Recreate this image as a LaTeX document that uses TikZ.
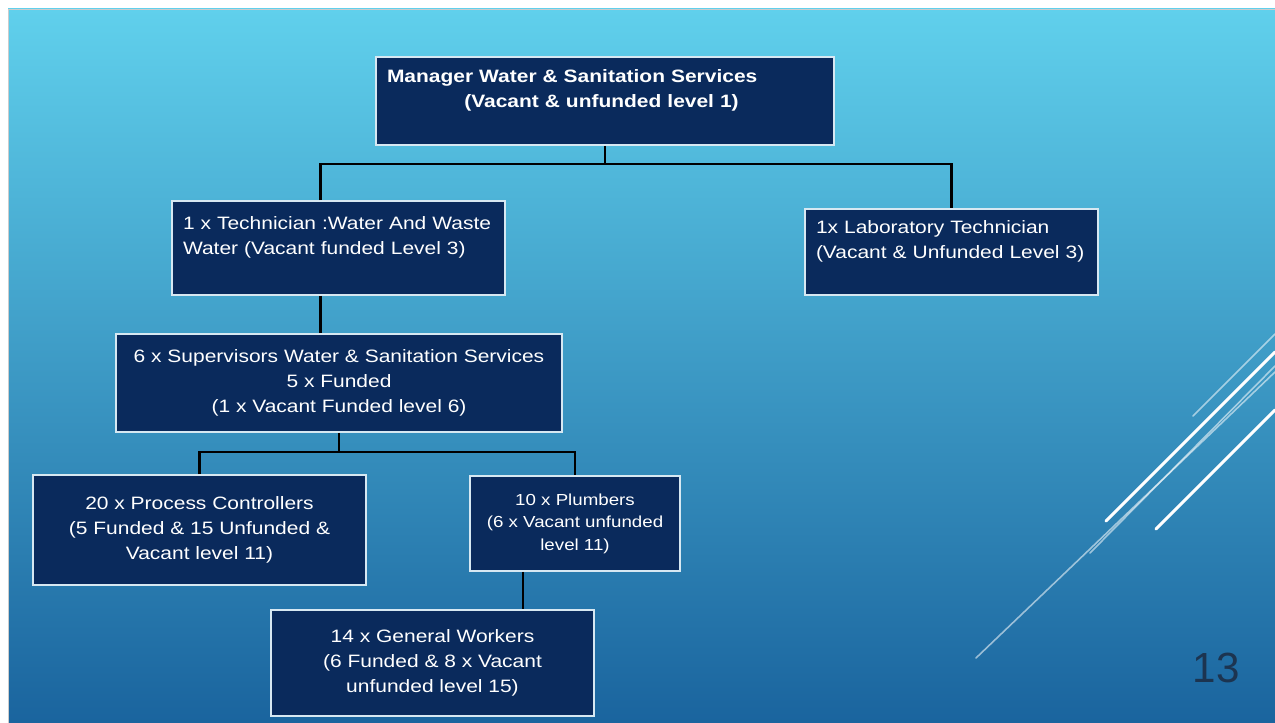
\documentclass[tikz,border=0pt]{standalone}
\usepackage{fontspec}
\setmainfont{Liberation Sans}[FakeStretch=1.17]
\newfontfamily\pagenumfont{Liberation Sans}
\usetikzlibrary{calc}

\newcommand{\pxu}{0.02cm}
\definecolor{bgtop}{RGB}{96,208,236}
\definecolor{bgmid}{RGB}{58,158,206}
\definecolor{bgbot}{RGB}{26,100,158}
\definecolor{boxfill}{RGB}{10,42,92}
\definecolor{boxline}{RGB}{215,232,242}
\definecolor{pagenum}{RGB}{28,52,80}

\begin{document}
\begin{tikzpicture}[x=0.02cm,y=-0.02cm,
  post/.style={draw=boxline,line width=1.1pt,fill=boxfill,text=white,
    font=\fontsize{10.2}{14.2}\selectfont,inner sep=0pt,align=center},
  leftpost/.style={post,align=left,inner xsep={11*\pxu}},
  conn/.style={line width=1.3pt,black},
  streak/.style={white,line width=1.7pt,line cap=round},
  faint/.style={white,opacity=0.55,line width=0.9pt,line cap=round}]
  % Page and slide background.
  \fill[white] (0,0) rectangle (1275,723);
  \useasboundingbox (0,0) rectangle (1275,723);
  \shade[top color=bgtop,middle color=bgmid,bottom color=bgbot] (8,9) rectangle (1275,723);
  \draw[black!20,line width=0.4pt] (8,723) -- (8,9) -- (1275,9);
  % Streaks at the right edge.
  \draw[faint] (1193,416) -- (1275,334);
  \draw[streak] (1106,521) -- (1275,352);
  \draw[faint] (1090,553) -- (1275,366);
  \draw[faint] (976,658) -- (1275,372);
  \draw[streak] (1156,529) -- (1275,410);
  % Slide number.
  \node[text=pagenum,font=\pagenumfont\fontsize{24}{28}\selectfont] (pgno) at (1216,668) {13};
  % Posts, top to bottom.
  \node[leftpost,font=\bfseries\fontsize{10.2}{14.2}\selectfont,
    minimum width={458*\pxu},minimum height={88*\pxu},text width={436*\pxu}]
    (mgr) at (605,101)
    {Manager Water \& Sanitation Services\\ \hspace*{44pt}(Vacant \& unfunded level 1)\\ ~};
  \node[leftpost,minimum width={333*\pxu},minimum height={94*\pxu},text width={311*\pxu}]
    (tech) at (338.5,248)
    {\mbox{1 x Technician :Water And Waste}\\ Water (Vacant funded Level 3)\\ ~};
  \node[leftpost,minimum width={293*\pxu},minimum height={86*\pxu},text width={271*\pxu}]
    (lab) at (951.5,252)
    {1x Laboratory Technician\\ (Vacant \& Unfunded Level 3)\\ ~};
  \node[post,minimum width={446*\pxu},minimum height={98*\pxu}]
    (sup) at (339,383)
    {6 x Supervisors Water \& Sanitation Services\\ 5 x Funded\\ (1 x Vacant Funded level 6)};
  \node[post,minimum width={333*\pxu},minimum height={110*\pxu}]
    (pc) at (199.5,530)
    {20 x Process Controllers\\ (5 Funded \& 15 Unfunded \&\\ Vacant level 11)};
  \node[post,font=\fontsize{9.1}{12.8}\selectfont,minimum width={210*\pxu},minimum height={95*\pxu}]
    (plumb) at (575,523.5)
    {10 x Plumbers\\ (6 x Vacant unfunded\\ level 11)};
  \node[post,minimum width={323*\pxu},minimum height={106*\pxu}]
    (gw) at (432.5,663)
    {14 x General Workers\\ (6 Funded \& 8 x Vacant\\ unfunded level 15)};
  % Reporting lines.
  \draw[conn] (mgr.south) -- ++(0,18) coordinate (bus1);
  \coordinate (techin) at ($(tech.north)+(-18,0)$);
  \draw[conn] (techin) |- (bus1) -| (lab.north);
  \coordinate (techout) at ($(tech.south)+(-18,0)$);
  \draw[conn] (techout) -- (techout |- sup.north);
  \draw[conn] (sup.south) -- ++(0,19) coordinate (bus2);
  \draw[conn] (pc.north) |- (bus2) -| (plumb.north);
  \coordinate (plumbout) at ($(plumb.south)+(-52,0)$);
  \draw[conn] (plumbout) -- (plumbout |- gw.north);
\end{tikzpicture}
\end{document}
